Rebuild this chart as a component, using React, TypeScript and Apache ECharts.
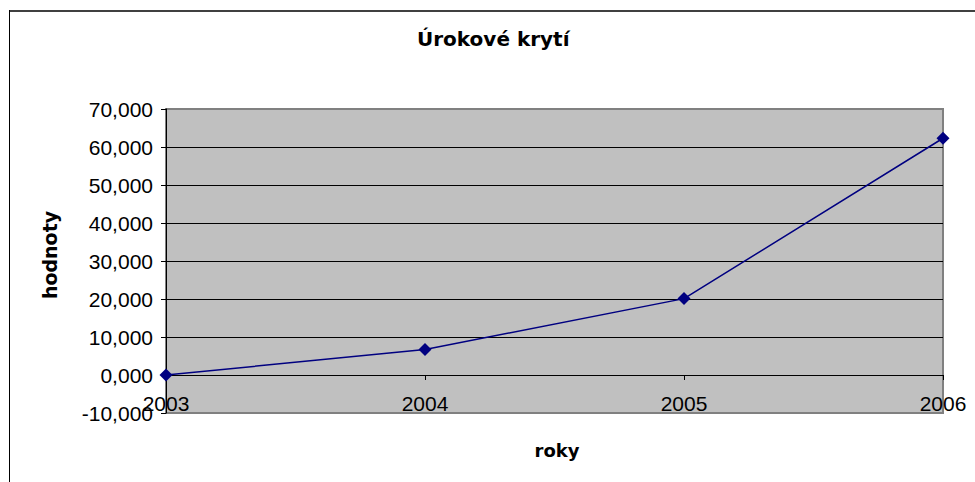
import React, { useEffect, useRef } from "react";
import * as echarts from "echarts";

const categories = ["2003", "2004", "2005", "2006"];
const values = [0, 6.7, 20.1, 62.3];
const yMin = -10;
const yMax = 70;
const yStep = 10;
const titleText = "Úrokové krytí";
const xName = "roky";
const yName = "hodnoty";

export default function App() {
  const ref = useRef<HTMLDivElement>(null);
  useEffect(() => {
    document.body.style.margin = "0";
    const chart = echarts.init(ref.current!, null, { renderer: "svg" });
    const labelFont = "'Liberation Sans', Arial, sans-serif";
    const boldFont = "'DejaVu Sans', sans-serif";
    chart.setOption({
      animation: false,
      backgroundColor: "#ffffff",
      title: {
        text: titleText,
        left: 417,
        top: 29,
        padding: 0,
        textStyle: { fontFamily: boldFont, fontSize: 20, fontWeight: "bold", color: "#000" },
      },
      grid: {
        left: 166,
        right: 32,
        top: 109,
        bottom: 69,
        show: true,
        backgroundColor: "#C0C0C0",
        borderColor: "#808080",
        borderWidth: 2,
        containLabel: false,
      },
      xAxis: {
        type: "category",
        data: categories,
        boundaryGap: false,
        axisLine: { show: true, onZero: true, lineStyle: { color: "#000", width: 1 } },
        axisTick: { show: true, length: 5, inside: false, lineStyle: { color: "#000" } },
        axisLabel: { interval: 0, margin: -20, fontFamily: labelFont, fontSize: 21, color: "#000" },
        splitLine: { show: false },
      },
      yAxis: {
        type: "value",
        min: yMin,
        max: yMax,
        interval: yStep,
        axisLine: { show: true, lineStyle: { color: "#000", width: 1 } },
        axisTick: { show: true, length: 5, lineStyle: { color: "#000" } },
        axisLabel: {
          margin: 13,
          fontFamily: labelFont,
          fontSize: 21,
          color: "#000",
          formatter: (v: number) => v.toFixed(3).replace(".", ","),
        },
        splitLine: { show: true, showMinLine: false, showMaxLine: false, lineStyle: { color: "#000", width: 1 } },
      },
      graphic: [
        { type: "line", shape: { x1: 9, y1: 11, x2: 975, y2: 11 }, style: { stroke: "#404040", lineWidth: 2 } },
        { type: "line", shape: { x1: 9.5, y1: 10, x2: 9.5, y2: 482 }, style: { stroke: "#000", lineWidth: 1 } },
        {
          type: "text",
          x: 557,
          y: 450,
          style: { text: xName, fontFamily: boldFont, fontSize: 18, fontWeight: "bold", fill: "#000", align: "center", verticalAlign: "middle" },
        },
        {
          type: "text",
          x: 50,
          y: 255,
          rotation: Math.PI / 2,
          style: { text: yName, fontFamily: boldFont, fontSize: 19, fontWeight: "bold", fill: "#000", align: "center", verticalAlign: "middle" },
        },
      ],
      series: [
        {
          type: "line",
          data: values,
          symbol: "diamond",
          symbolSize: 13,
          lineStyle: { color: "#000080", width: 1.5 },
          itemStyle: { color: "#000080" },
        },
      ],
    });
    return () => chart.dispose();
  }, []);
  return <div ref={ref} style={{ position: "fixed", left: 0, top: 0, width: 975, height: 482 }} />;
}
